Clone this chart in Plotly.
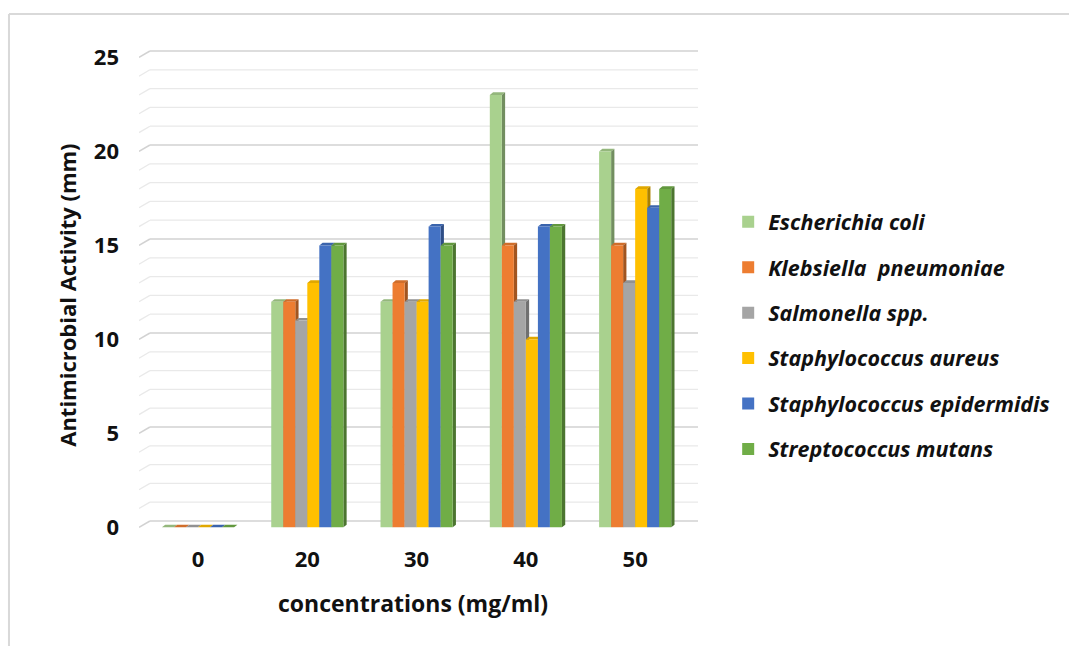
import plotly.graph_objects as go

# ---- data ----
concentrations = ["0", "20", "30", "40", "50"]
species = ["Escherichia coli", "Klebsiella\u00a0 pneumoniae", "Salmonella spp.",
           "Staphylococcus aureus", "Staphylococcus epidermidis", "Streptococcus mutans"]
e_coli = [0, 12, 12, 23, 20]
klebsiella = [0, 12, 13, 15, 15]
salmonella = [0, 11, 12, 12, 13]
staph_aureus = [0, 13, 12, 10, 18]
staph_epi = [0, 15, 16, 16, 17]
strep_mutans = [0, 15, 15, 16, 18]
series_values = [e_coli, klebsiella, salmonella, staph_aureus, staph_epi, strep_mutans]
colors = ["#A9D18E", "#ED7D31", "#A5A5A5", "#FFC000", "#4472C4", "#70AD47"]
y_ticks = [0, 5, 10, 15, 20, 25]
grid_levels = list(range(0, 26))

# ---- style constants ----
BAR_W = 0.11          # width of one bar in category units
DEPTH_X = 0.03        # 3D depth, x units
DEPTH_Y = 0.14        # 3D depth, y units
GRID_DX = 0.10        # wall depth
GRID_DY = 0.34
X_MIN, X_MAX = -0.54, 4.575
FONT = "Open Sans"


def shade(hex_color, f):
    h = hex_color.lstrip("#")
    r, g, b = (int(h[i:i + 2], 16) for i in (0, 2, 4))
    return "rgb(%d,%d,%d)" % (r * f, g * f, b * f)


fig = go.Figure()
shapes = []

# back-wall gridlines with perspective stubs
for v in grid_levels:
    major = v % 5 == 0
    col = "#d2d2d2" if major else "#e9e9e9"
    wid = 1.6 if major else 1.3
    shapes.append(dict(type="line", xref="x", yref="y", layer="below",
                       x0=X_MIN + GRID_DX, x1=X_MAX, y0=v + GRID_DY, y1=v + GRID_DY,
                       line=dict(color=col, width=wid)))
    shapes.append(dict(type="line", xref="x", yref="y", layer="below",
                       x0=X_MIN, x1=X_MIN + GRID_DX, y0=v, y1=v + GRID_DY,
                       line=dict(color=col, width=wid)))

n = len(species)
for j, (name, vals, col) in enumerate(zip(species, series_values, colors)):
    off = (j - n / 2) * BAR_W
    xs = list(range(len(concentrations)))
    fig.add_trace(go.Bar(x=xs, y=vals, name=name, width=BAR_W, offset=off,
                         marker=dict(color=col, line=dict(width=0)),
                         legendgroup=name, hoverinfo="skip"))
    for i, v in zip(xs, vals):
        xl = i + off
        xr = xl + BAR_W
        # top face
        shapes.append(dict(type="path", xref="x", yref="y", layer="below",
                           path=f"M{xl},{v} L{xl + DEPTH_X},{v + DEPTH_Y} L{xr + DEPTH_X},{v + DEPTH_Y} L{xr},{v} Z",
                           fillcolor=shade(col, 0.88), line=dict(width=0)))
        # side face
        shapes.append(dict(type="path", xref="x", yref="y", layer="below",
                           path=f"M{xr},0 L{xr + DEPTH_X},{DEPTH_Y} L{xr + DEPTH_X},{v + DEPTH_Y} L{xr},{v} Z",
                           fillcolor=shade(col, 0.68), line=dict(width=0)))

# outer chart border (top and left)
shapes.append(dict(type="line", xref="paper", yref="paper", x0=-0.2326, x1=1.67,
                   y0=1.0701, y1=1.0701, line=dict(color="#d9d9d9", width=2)))
shapes.append(dict(type="line", xref="paper", yref="paper", x0=-0.2326, x1=-0.2326,
                   y0=1.0701, y1=-0.25, line=dict(color="#d9d9d9", width=2)))

fig.update_layout(
    width=1069, height=646,
    margin=dict(l=139, r=371, t=48, b=113),
    paper_bgcolor="white", plot_bgcolor="white",
    barmode="overlay",
    shapes=shapes,
    showlegend=True,
    legend=dict(x=1.054, xanchor="left", y=0.684, yanchor="top",
                traceorder="grouped", tracegroupgap=14.5, itemwidth=30,
                font=dict(family=FONT, size=21.5, color="#111111", weight="bold", style="italic")),
    xaxis=dict(range=[X_MIN, X_MAX], tickvals=list(range(len(concentrations))),
               ticktext=concentrations, showgrid=False, zeroline=False, showline=False,
               ticklabelstandoff=11,
               tickfont=dict(family=FONT, size=22, color="#111111", weight="bold")),
    yaxis=dict(range=[-0.3, 25.5], tickvals=y_ticks, ticktext=[str(t) for t in y_ticks],
               showgrid=False, zeroline=False, showline=False, ticklabelstandoff=19,
               tickfont=dict(family=FONT, size=22, color="#111111", weight="bold")),
    annotations=[
        dict(text="concentrations (mg/ml)", xref="paper", yref="paper", x=0.49, y=-0.144,
             xanchor="center", yanchor="middle", showarrow=False,
             font=dict(family=FONT, size=23, color="#111111", weight="bold")),
        dict(text="Antimicrobial Activity (mm)", xref="paper", yref="paper", x=-0.128, y=0.49,
             xanchor="center", yanchor="middle", showarrow=False, textangle=-90,
             font=dict(family=FONT, size=22, color="#111111", weight="bold")),
    ],
)

fig.write_html("out.html")
